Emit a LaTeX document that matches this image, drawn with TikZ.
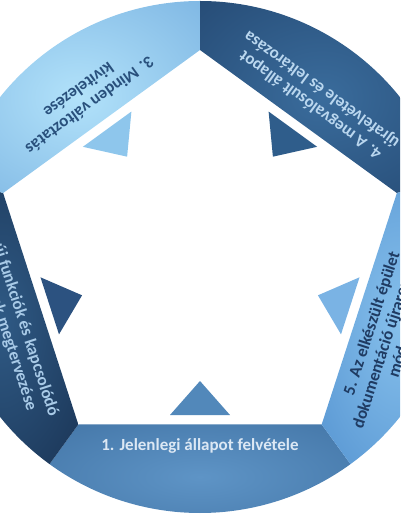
\documentclass[tikz,border=0pt]{standalone}
\usepackage{fontspec}
\setmainfont{Carlito}
\usepackage{xcolor}
\usepackage{tikz}

% segment colours: inner glow / outer edge / text / triangle
\definecolor{segAin}{HTML}{5E94C6}\definecolor{segAout}{HTML}{3A6B9C}
\definecolor{txtA}{HTML}{DCE8F4}\definecolor{triA}{HTML}{5288BA}
\definecolor{segBin}{HTML}{2F5A85}\definecolor{segBout}{HTML}{132744}
\definecolor{txtB}{HTML}{A8CAE7}\definecolor{triB}{HTML}{2C5280}
\definecolor{segCin}{HTML}{B2E2FA}\definecolor{segCout}{HTML}{6CA7DB}
\definecolor{txtC}{HTML}{29507C}\definecolor{triC}{HTML}{8EC6EC}
\definecolor{segDin}{HTML}{3A6C9C}\definecolor{segDout}{HTML}{1F4068}
\definecolor{txtD}{HTML}{BAD7EF}\definecolor{triD}{HTML}{2F5D8B}
\definecolor{segEin}{HTML}{86C0EC}\definecolor{segEout}{HTML}{4585C8}
\definecolor{txtE}{HTML}{1F3B62}\definecolor{triE}{HTML}{7AB3E4}

\pgfdeclareradialshading{glowA}{\pgfpoint{0bp}{0bp}}{color(0bp)=(segAin); color(50bp)=(segAout)}
\pgfdeclareradialshading{glowB}{\pgfpoint{0bp}{0bp}}{color(0bp)=(segBin); color(50bp)=(segBout)}
\pgfdeclareradialshading{glowC}{\pgfpoint{0bp}{0bp}}{color(0bp)=(segCin); color(50bp)=(segCout)}
\pgfdeclareradialshading{glowD}{\pgfpoint{0bp}{0bp}}{color(0bp)=(segDin); color(50bp)=(segDout)}
\pgfdeclareradialshading{glowE}{\pgfpoint{0bp}{0bp}}{color(0bp)=(segEin); color(50bp)=(segEout)}

\begin{document}
\begin{tikzpicture}[x=1pt,y=1pt, font=\bfseries\fontsize{17}{20}\selectfont,
  seglabel/.style={inner sep=0pt, anchor=base}]
 \useasboundingbox (-200,-259) rectangle (200,257);
 \clip (-200,-259) rectangle (200,257);
 % ring segments between pentagon (R=207) and circle (r=256)
 \shade[shading=glowA] (234:207)--(234:256) arc[start angle=234,end angle=306,radius=256]--(306:207)--cycle;
 \shade[shading=glowB] (162:207)--(162:256) arc[start angle=162,end angle=234,radius=256]--(234:207)--cycle;
 \shade[shading=glowC] (90:207)--(90:256) arc[start angle=90,end angle=162,radius=256]--(162:207)--cycle;
 \shade[shading=glowD] (18:207)--(18:256) arc[start angle=18,end angle=90,radius=256]--(90:207)--cycle;
 \shade[shading=glowE] (-54:207)--(-54:256) arc[start angle=-54,end angle=18,radius=256]--(18:207)--cycle;
 % inward triangles
 \foreach \r/\c in {0/triA,288/triB,216/triC,144/triD,72/triE}
   \fill[\c, rotate=\r] (-30,-158)--(30,-158)--(0,-124)--cycle;
 % labels
 \node[seglabel, text=txtA] (lblA) at (0,-193) {1. Jelenlegi állapot felvétele};
 \begin{scope}[rotate=288, transform shape]
  \node[seglabel, anchor=base east, text=txtB] (lblB1) at (106,-193) {2. Az új funkciók és kapcsolódó};
  \node[seglabel, anchor=base east, text=txtB] (lblB2) at (94,-212) {rendszerek megtervezése};
 \end{scope}
 \begin{scope}[rotate=216, transform shape]
  \node[seglabel, text=txtC] (lblC1) at (0,-193) {3. Minden változtatás};
  \node[seglabel, text=txtC] (lblC2) at (0,-212) {kivitelezése};
 \end{scope}
 \begin{scope}[rotate=144, transform shape]
  \node[seglabel, text=txtD] (lblD1) at (0,-193) {4. A megvalósult állapot};
  \node[seglabel, text=txtD] (lblD2) at (0,-212) {újrafelvétele és leltározása};
 \end{scope}
 \begin{scope}[rotate=72, transform shape]
  \node[seglabel, anchor=base west, text=txtE] (lblE1) at (-85,-189) {5. Az elkészült épület};
  \node[seglabel, anchor=base west, text=txtE] (lblE2) at (-114,-208) {dokumentáció újrarendezése és};
  \node[seglabel, anchor=base west, text=txtE] (lblE3) at (-55,-226) {módosítása};
 \end{scope}
\end{tikzpicture}
\end{document}
